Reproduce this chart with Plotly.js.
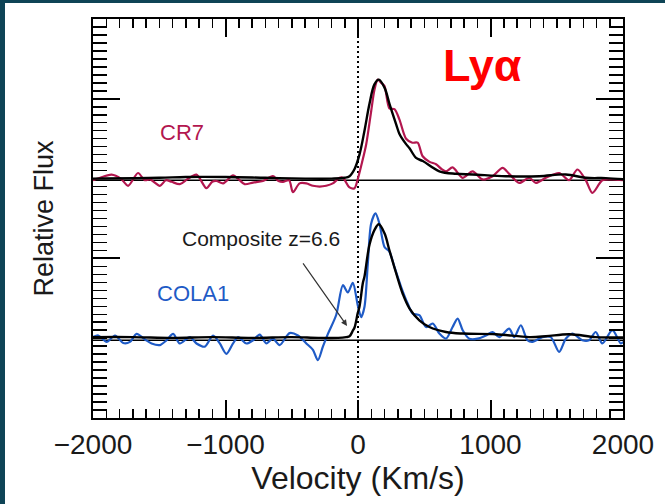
<!DOCTYPE html>
<html>
<head>
<meta charset="utf-8">
<script src="https://cdn.plot.ly/plotly-3.0.1.min.js"></script>
<style>
  html, body { margin: 0; padding: 0; background: #0e4456; width: 665px; height: 504px; overflow: hidden; }
  #chart { position: absolute; left: 5px; top: 3px; width: 660px; height: 501px; background: #ffffff; }
</style>
</head>
<body>
<div id="chart"></div>
<script>
// Lyman-alpha line profiles (flux relative to each spectrum's continuum level)
const cr7Vel = [-2000,-1930,-1860,-1790,-1735,-1660,-1610,-1570,-1495,-1450,-1407,-1345,-1290,-1219,-1144,-1100,-1068,-1018,-943,-900,-855,-792,-717,-642,-600,-566,-520,-491,-441,-390,-340,-290,-240,-190,-139,-114,-64,-26,-4,30,62,99,125,149,175,200,237,275,313,363,410,450,488,540,589,630,664,714,789,865,940,1016,1091,1141,1217,1292,1342,1418,1518,1593,1656,1719,1769,1844,1920,2000];
const cr7Flux = [0,0.02,0.035,0.01,-0.035,0.045,0,0.005,-0.035,0,-0.01,-0.025,0.005,0.035,-0.05,-0.01,-0.005,-0.02,0.03,0.005,-0.025,-0.015,-0.005,0.025,-0.005,-0.01,0,-0.075,-0.02,-0.02,-0.035,-0.04,-0.035,-0.02,0.015,0.015,-0.045,-0.05,0,0.11,0.225,0.43,0.57,0.63,0.61,0.59,0.45,0.445,0.38,0.26,0.235,0.235,0.15,0.115,0.1,0.07,0.055,0.08,0.015,0.055,0.005,0.025,0.077,0.04,-0.017,0.015,-0.017,0.015,0.045,0,0.067,0,-0.08,0,0.005,0];

const cr7ModelVel = [-2000,-1500,-1300,-1000,-700,-400,-200,-100,-64,-26,11,49,87,124,157,200,237,288,313,363,389,438,489,614,740,865,1116,1367,1568,1719,1870,2000];
const cr7ModelFlux = [0.01,0.015,0.02,0.02,0.015,0.01,0.01,0.015,0.025,0.07,0.16,0.31,0.48,0.6,0.63,0.58,0.48,0.35,0.29,0.226,0.2,0.14,0.12,0.056,0.04,0.036,0.025,0.025,0.036,0.015,0.013,0.006];

const cola1Vel = [-2000,-1960,-1897,-1834,-1772,-1721,-1671,-1608,-1558,-1495,-1445,-1395,-1345,-1269,-1219,-1156,-1094,-1043,-993,-943,-905,-842,-792,-742,-692,-642,-591,-516,-453,-390,-340,-303,-265,-227,-164,-114,-77,-39,-2,24,49,74,99,132,162,200,237,275,325,375,413,463,514,564,614,664,714,752,790,840,902,966,1016,1066,1141,1179,1229,1279,1317,1392,1455,1518,1568,1618,1693,1744,1794,1844,1920,1983,2000];
const cola1Flux = [0.02,0.03,-0.01,0.03,-0.017,-0.01,0.04,0.005,-0.02,-0.03,0,0.04,-0.02,0.02,-0.02,-0.04,0.03,-0.02,-0.085,-0.02,0.02,-0.02,0,0.035,-0.02,0.01,-0.03,0.045,0.03,-0.02,-0.06,-0.125,-0.04,0.04,0.16,0.345,0.3,0.36,0.22,0.145,0.21,0.48,0.73,0.795,0.73,0.585,0.555,0.46,0.335,0.23,0.167,0.157,0.083,0.105,0.042,0.01,0.083,0.136,0.063,0.01,0.01,0.03,0.052,0.02,0.073,0.02,0.094,0,-0.01,0.02,0.02,-0.073,0.01,0.042,0,0,0.052,-0.02,0.063,-0.02,-0.01];

const cola1ModelVel = [-2000,-1700,-1400,-1100,-800,-500,-300,-150,-89,-64,-39,-26,-2,11,37,49,87,124,157,200,237,288,338,388,463,539,664,790,1041,1292,1418,1593,1794,1970,2000];
const cola1ModelFlux = [0.02,0.02,0.015,0.02,0.015,0.02,0.015,0.015,0.02,0.025,0.06,0.08,0.17,0.21,0.36,0.4,0.6,0.69,0.727,0.67,0.564,0.42,0.29,0.2,0.125,0.083,0.052,0.042,0.038,0.02,0.025,0.038,0.02,0.017,0.017];

const velRange = [-2000, 2000];
const fluxRange = [0, 2.5];

// vertical stacking of the two spectra
const cr7Offset = 1.49;
const cola1Offset = 0.487;

const shift = (arr, off) => arr.map(v => v + off);

const CRIMSON = '#b3174f';
const BLUE = '#1f5bc6';
const FONT = 'Liberation Sans, Arial, Helvetica, sans-serif';

const traces = [
  // systemic velocity marker
  { x: [0, 0], y: fluxRange, mode: 'lines', line: { color: '#000', width: 2, dash: '2px,3px' }, hoverinfo: 'skip' },
  // continuum levels
  { x: velRange, y: [cr7Offset, cr7Offset], mode: 'lines', line: { color: '#000', width: 1.6 } },
  { x: velRange, y: [cola1Offset, cola1Offset], mode: 'lines', line: { color: '#000', width: 1.6 } },
  // observed spectra
  { x: cr7Vel, y: shift(cr7Flux, cr7Offset), mode: 'lines', name: 'CR7',
    line: { color: CRIMSON, width: 2.2, shape: 'spline', smoothing: 0.8 } },
  { x: cola1Vel, y: shift(cola1Flux, cola1Offset), mode: 'lines', name: 'COLA1',
    line: { color: BLUE, width: 2.2, shape: 'spline', smoothing: 0.8 } },
  // composite z=6.6 profile over each spectrum
  { x: cr7ModelVel, y: shift(cr7ModelFlux, cr7Offset), mode: 'lines', name: 'Composite',
    line: { color: '#000', width: 2.4, shape: 'spline', smoothing: 1 } },
  { x: cola1ModelVel, y: shift(cola1ModelFlux, cola1Offset), mode: 'lines', name: 'Composite',
    line: { color: '#000', width: 2.4, shape: 'spline', smoothing: 1 } }
];

const layout = {
  width: 660,
  height: 501,
  margin: { l: 88, r: 42, t: 16, b: 86 },
  paper_bgcolor: '#ffffff',
  plot_bgcolor: '#ffffff',
  showlegend: false,
  font: { family: FONT, color: '#1a1a1a' },
  xaxis: {
    range: velRange,
    tick0: 0, dtick: 1000,
    ticks: 'inside', ticklen: 18, tickwidth: 2, tickcolor: '#000',
    minor: { dtick: 100, ticks: 'inside', ticklen: 9, tickwidth: 1.5, tickcolor: '#000' },
    showline: true, linewidth: 2, linecolor: '#000', mirror: 'allticks',
    showgrid: false, zeroline: false,
    tickfont: { family: FONT, size: 28, color: '#1a1a1a' },
    title: { text: 'Velocity (Km/s)', font: { family: FONT, size: 32, color: '#1a1a1a' }, standoff: 6 }
  },
  yaxis: {
    range: fluxRange,
    tick0: 0, dtick: 1,
    ticks: 'inside', ticklen: 27, tickwidth: 2, tickcolor: '#000',
    minor: { dtick: 0.05, ticks: 'inside', ticklen: 14, tickwidth: 1.5, tickcolor: '#000' },
    showline: true, linewidth: 2, linecolor: '#000', mirror: 'allticks',
    showgrid: false, zeroline: false, showticklabels: false,
    title: { text: 'Relative Flux', font: { family: FONT, size: 27, color: '#1a1a1a' }, standoff: 30 }
  },
  annotations: [
    { x: 943, y: 2.207, xref: 'x', yref: 'y', text: '<b>Lyα</b>', showarrow: false,
      font: { family: FONT, size: 45, color: '#ff0000' } },
    { x: -1332, y: 1.79, xref: 'x', yref: 'y', text: 'CR7', showarrow: false,
      font: { family: FONT, size: 22, color: CRIMSON } },
    { x: -1242, y: 0.78, xref: 'x', yref: 'y', text: 'COLA1', showarrow: false,
      font: { family: FONT, size: 22, color: BLUE } },
    { x: -732, y: 1.125, xref: 'x', yref: 'y', text: 'Composite z=6.6', showarrow: false,
      font: { family: FONT, size: 21, color: '#1a1a1a' } },
    { x: -83, y: 0.577, xref: 'x', yref: 'y', text: '', showarrow: true,
      ax: -45, ay: -64, arrowhead: 2, arrowsize: 1, arrowwidth: 1.2, arrowcolor: '#333' }
  ]
};

Plotly.newPlot('chart', traces, layout, { staticPlot: true, displayModeBar: false });
</script>
</body>
</html>
